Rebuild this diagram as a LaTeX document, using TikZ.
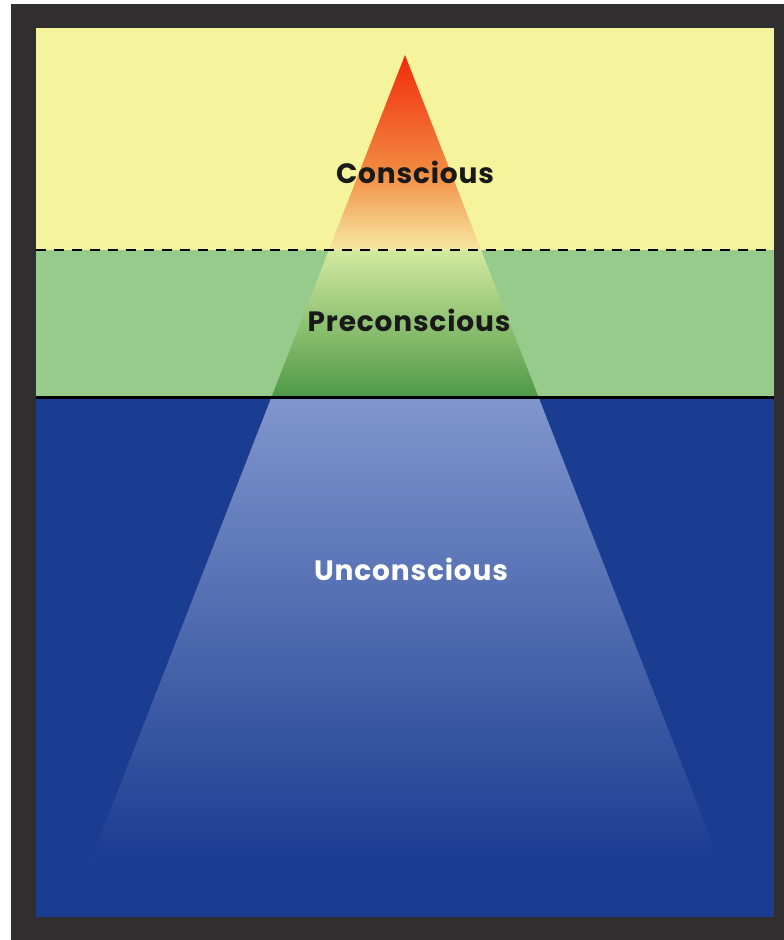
\documentclass[tikz,border=0pt]{standalone}
\usepackage{fontspec}
\setmainfont{Poppins}[LetterSpace=3]
\definecolor{frame}{HTML}{302E2E}
\definecolor{yel}{HTML}{F5F39B}
\definecolor{grn}{HTML}{96CB8B}
\definecolor{blu}{HTML}{1A3C91}
\definecolor{tred}{HTML}{F22A0C}
\definecolor{torange}{HTML}{F28A40}
\definecolor{tpale}{HTML}{F6E8A2}
\definecolor{glight}{HTML}{D2EAA0}
\definecolor{gdark}{HTML}{4E9946}
\definecolor{blight}{HTML}{8196CC}
\tikzset{label text/.style={font=\bfseries\fontsize{28}{34}\selectfont, inner sep=0pt, anchor=base}}
\begin{document}
\begin{tikzpicture}[x=1pt,y=-1pt]
\useasboundingbox (0,0) rectangle (784,940);
\fill[white] (0,0) rectangle (784,940);
\fill[frame] (11,4) rectangle (784,940);
% zones
\fill[yel] (36,28) rectangle (774,250);
\fill[grn] (36,250) rectangle (774,397);
\fill[blu] (36,397) rectangle (774,917);
% triangle parts
\begin{scope}
\clip (405,55) -- (90,862) -- (720,862) -- cycle;
\shade[top color=tred, bottom color=torange] (36,55) rectangle (774,171);
\shade[top color=torange, bottom color=tpale] (36,170) rectangle (774,250);
\shade[top color=glight, bottom color=gdark] (36,250) rectangle (774,397);
\shade[top color=blight, bottom color=blu] (36,397) rectangle (774,862);
\end{scope}
% boundaries
\draw[black, line width=2pt, dash pattern=on 10pt off 8pt] (36,250) -- (774,250);
\draw[black, line width=3pt] (36,397) -- (774,397);
% labels
\node[label text, text=black!90] (c) at (415,183) {Conscious};
\node[label text, text=black!90] (p) at (409,331) {Preconscious};
\node[label text, text=white] (u) at (411,580) {Unconscious};
\end{tikzpicture}
\end{document}
